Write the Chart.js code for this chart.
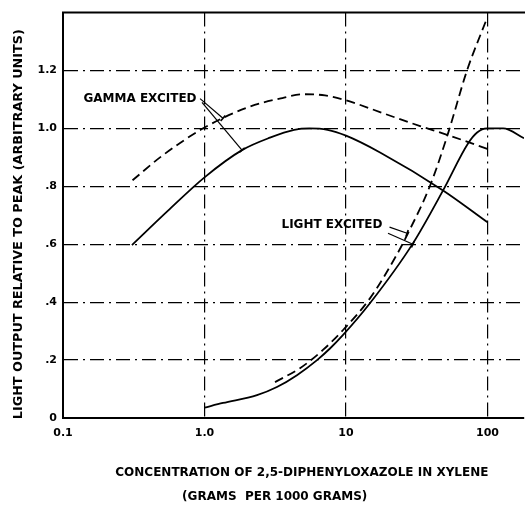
<!DOCTYPE html>
<html>
<head>
<meta charset="utf-8">
<script src="https://cdn.jsdelivr.net/npm/chart.js@4.4.0/dist/chart.umd.min.js"></script>
<style>
  html, body { margin: 0; padding: 0; background: #fff; }
  #wrap { width: 525px; height: 509px; position: relative; }
</style>
</head>
<body>
<div id="wrap"><canvas id="c" width="525" height="509"></canvas></div>
<script>
// Axis ticks and their printed labels
const xTicks = [0.1, 1, 10, 100];
const xTickLabels = ['0.1', '1.0', '10', '100'];
const yTicks = [0, 0.2, 0.4, 0.6, 0.8, 1.0, 1.2];
const yTickLabels = ['0', '.2', '.4', '.6', '.8', '1.0', '1.2'];

// Gamma excited, upper (dashed) curve
const gammaDashedX = [0.31, 0.50, 1.0, 2.0, 3.55, 5.0, 7.1, 10, 18.9, 33.4, 51.8, 107];
const gammaDashedY = [0.821, 0.905, 1.003, 1.072, 1.105, 1.118, 1.114, 1.097, 1.05, 1.008, 0.978, 0.924];

// Gamma excited, lower (solid) curve
const gammaSolidX = [0.307, 0.55, 1.0, 1.84, 2.9, 4.3, 5.5, 7.4, 10, 17.4, 48.5, 100];
const gammaSolidY = [0.597, 0.715, 0.831, 0.925, 0.968, 0.995, 1.0, 0.995, 0.975, 0.917, 0.786, 0.676];

// Light excited, dashed curve
const lightDashedX = [3.15, 4.73, 6.87, 9.5, 14.8, 22.9, 27.4, 39.3, 52.6, 71.6, 99];
const lightDashedY = [0.124, 0.172, 0.235, 0.303, 0.414, 0.565, 0.638, 0.803, 0.983, 1.2, 1.38];

// Light excited, solid curve
const lightSolidX = [1.0, 1.35, 2.35, 3.25, 4.5, 6.24, 7.7, 9.5, 14.8, 29.7, 48.5, 72.8, 84.4, 99, 129, 181];
const lightSolidY = [0.036, 0.052, 0.079, 0.107, 0.148, 0.2, 0.24, 0.286, 0.397, 0.603, 0.786, 0.948, 0.986, 1.0, 1.0, 0.966];

// Curve labels with leader lines, in data coordinates
const noteTexts = ['GAMMA EXCITED', 'LIGHT EXCITED'];
const noteAt = [[0.35, 1.103], [7.96, 0.666]];
const noteLeaders = [
  [[[0.93, 1.103], [1.35, 1.035]], [[0.96, 1.09], [1.84, 0.925]]],
  [[[20.3, 0.659], [27.0, 0.638]], [[19.8, 0.638], [29.7, 0.600]]]
];

const X_MIN = 0.1, X_MAX = 181, Y_MIN = 0, Y_MAX = 1.4;
const HEAVY = '"DejaVu Sans", "Liberation Sans", sans-serif';

const pts = (xs, ys) => xs.map((v, i) => ({ x: v, y: ys[i] }));

const curveStyle = {
  borderColor: '#000',
  borderWidth: 1.8,
  pointRadius: 0,
  fill: false,
  cubicInterpolationMode: 'monotone'
};

const notesAndFrame = {
  id: 'notesAndFrame',
  afterDatasetsDraw(chart) {
    const { ctx, chartArea, scales: { x, y } } = chart;
    ctx.save();
    // top frame line
    ctx.strokeStyle = '#000';
    ctx.lineWidth = 2;
    ctx.beginPath();
    ctx.moveTo(chartArea.left - 1, chartArea.top);
    ctx.lineTo(chart.width, chartArea.top);
    ctx.stroke();

    // curve labels and their leaders
    ctx.font = 'bold 12px ' + HEAVY;
    ctx.fillStyle = '#000';
    ctx.textAlign = 'center';
    ctx.textBaseline = 'middle';
    noteTexts.forEach((t, i) => {
      ctx.fillText(t, x.getPixelForValue(noteAt[i][0]), y.getPixelForValue(noteAt[i][1]));
      ctx.lineWidth = 1.2;
      noteLeaders[i].forEach(([a, b]) => {
        const x1 = x.getPixelForValue(a[0]), y1 = y.getPixelForValue(a[1]);
        const x2 = x.getPixelForValue(b[0]), y2 = y.getPixelForValue(b[1]);
        ctx.beginPath();
        ctx.moveTo(x1, y1);
        ctx.lineTo(x2, y2);
        ctx.stroke();
        // short cross bar where the leader meets its curve
        const ang = Math.atan2(y2 - y1, x2 - x1) + Math.PI / 2;
        ctx.lineWidth = 1.6;
        ctx.beginPath();
        ctx.moveTo(x2 - 3.5 * Math.cos(ang), y2 - 3.5 * Math.sin(ang));
        ctx.lineTo(x2 + 3.5 * Math.cos(ang), y2 + 3.5 * Math.sin(ang));
        ctx.stroke();
        ctx.lineWidth = 1.2;
      });
    });
    ctx.restore();
  }
};

new Chart(document.getElementById('c'), {
  type: 'line',
  data: {
    datasets: [
      Object.assign({ label: 'Gamma excited (dashed)', data: pts(gammaDashedX, gammaDashedY), borderDash: [9, 5] }, curveStyle),
      Object.assign({ label: 'Gamma excited (solid)', data: pts(gammaSolidX, gammaSolidY) }, curveStyle),
      Object.assign({ label: 'Light excited (dashed)', data: pts(lightDashedX, lightDashedY), borderDash: [9, 5] }, curveStyle),
      Object.assign({ label: 'Light excited (solid)', data: pts(lightSolidX, lightSolidY) }, curveStyle)
    ]
  },
  options: {
    responsive: false,
    animation: false,
    devicePixelRatio: 1,
    layout: { padding: { top: 12, right: 1, left: 0, bottom: 0 } },
    plugins: { legend: { display: false }, tooltip: { enabled: false } },
    scales: {
      x: {
        type: 'logarithmic',
        min: X_MIN,
        max: X_MAX,
        afterBuildTicks: s => { s.ticks = xTicks.map(v => ({ value: v })); },
        afterFit: s => { s.height = 91; },
        ticks: {
          color: '#000',
          padding: 9,
          maxRotation: 0,
          autoSkip: false,
          font: { family: HEAVY, size: 11, weight: 'bold' },
          callback: v => xTickLabels[xTicks.indexOf(v)]
        },
        grid: {
          drawTicks: false,
          lineWidth: 1.2,
          color: c => (c.tick && c.tick.value === X_MIN) ? 'rgba(0,0,0,0)' : '#000'
        },
        border: { display: true, color: '#000', width: 2, dash: [14, 5, 2, 5] },
        title: {
          display: true,
          text: ['    CONCENTRATION OF 2,5-DIPHENYLOXAZOLE IN XYLENE', '(GRAMS  PER 1000 GRAMS)         '],
          color: '#000',
          padding: { top: 0, bottom: 0 },
          font: { family: HEAVY, size: 12, weight: 'bold', lineHeight: 2 }
        }
      },
      y: {
        type: 'linear',
        min: Y_MIN,
        max: Y_MAX,
        afterBuildTicks: s => { s.ticks = yTicks.map(v => ({ value: v })); },
        afterFit: s => { s.width = 63; },
        ticks: {
          color: '#000',
          padding: 6,
          font: { family: HEAVY, size: 11, weight: 'bold' },
          callback: v => yTickLabels[yTicks.findIndex(t => Math.abs(t - v) < 1e-9)]
        },
        grid: {
          drawTicks: false,
          lineWidth: 1.2,
          color: c => (c.tick && c.tick.value === Y_MIN) ? 'rgba(0,0,0,0)' : '#000'
        },
        border: { display: true, color: '#000', width: 2, dash: [14, 5, 2, 5] },
        title: {
          display: true,
          text: 'LIGHT OUTPUT RELATIVE TO PEAK (ARBITRARY UNITS)    ',
          color: '#000',
          padding: { top: 11, bottom: 0 },
          font: { family: HEAVY, size: 12.8, weight: 'bold' }
        }
      }
    }
  },
  plugins: [notesAndFrame]
});
</script>
</body>
</html>
